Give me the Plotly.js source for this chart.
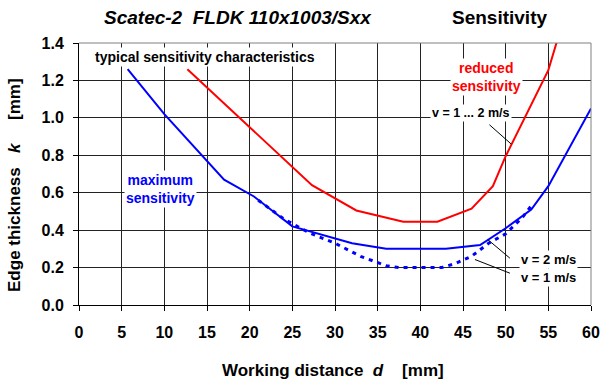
<!DOCTYPE html>
<html><head><meta charset="utf-8">
<script src="https://cdn.plot.ly/plotly-3.0.1.min.js"></script>
<style>body{margin:0;padding:0;background:#fff}#chart{width:603px;height:382px}</style>
</head><body><div id="chart"></div>
<script>
// v = 2 m/s (maximum sensitivity, solid)
const blue2X = [5.7, 10, 17, 20.5, 25, 32, 36, 43, 47, 50, 53, 55, 60];
const blue2Y = [1.26, 1.02, 0.67, 0.58, 0.42, 0.33, 0.30, 0.30, 0.32, 0.41, 0.51, 0.635, 1.05];
// v = 1 m/s (maximum sensitivity, dotted)
const blue1X = [21, 24, 27, 30, 33, 36, 37.5, 42.5, 44, 46, 48, 50, 52, 53];
const blue1Y = [0.56, 0.46, 0.385, 0.33, 0.26, 0.21, 0.20, 0.20, 0.22, 0.26, 0.33, 0.38, 0.47, 0.53];
// v = 1 ... 2 m/s (reduced sensitivity)
const redX = [12.7, 27.3, 32.5, 38, 42, 46, 48.5, 50, 55, 57];
const redY = [1.26, 0.64, 0.505, 0.445, 0.445, 0.515, 0.635, 0.795, 1.255, 1.56];

const xTicks = [0, 5, 10, 15, 20, 25, 30, 35, 40, 45, 50, 55, 60];
const yTicks = [0, 0.2, 0.4, 0.6, 0.8, 1.0, 1.2, 1.4];
const yTickText = ['0.0', '0.2', '0.4', '0.6', '0.8', '1.0', '1.2', '1.4'];

const FONT = 'Arial, "Liberation Sans", sans-serif';
const traces = [
  {x: blue1X, y: blue1Y, mode: 'lines', line: {color: '#0000FF', width: 3, dash: '4px,5px'}, hoverinfo: 'none'},
  {x: blue2X, y: blue2Y, mode: 'lines', line: {color: '#0000FF', width: 2}, hoverinfo: 'none'},
  {x: redX, y: redY, mode: 'lines', line: {color: '#FF0000', width: 2}, hoverinfo: 'none'}
];

const ann = (x, y, text, size, color, extra) => Object.assign({x, y, xref: 'x', yref: 'y', text, showarrow: false,
  xanchor: 'center', yanchor: 'middle',
  font: {family: FONT, size, color}, bgcolor: '#ffffff', borderpad: 1}, extra || {});
const pann = (x, y, text, size, extra) => Object.assign({x, y, xref: 'paper', yref: 'paper', text, showarrow: false,
  xanchor: 'center', yanchor: 'middle', font: {family: FONT, size, color: '#000'}}, extra || {});

const layout = {
  width: 603, height: 382,
  margin: {l: 79, r: 12, t: 43, b: 76.5},
  paper_bgcolor: '#ffffff', plot_bgcolor: '#ffffff',
  showlegend: false,
  font: {family: FONT, color: '#000'},
  xaxis: {range: [0, 60], tickvals: xTicks, ticktext: xTicks.map(String), showgrid: true, gridcolor: '#222', gridwidth: 1,
    zeroline: false, showline: true, linecolor: '#000', linewidth: 1, ticks: 'outside', ticklen: 5, tickcolor: '#000',
    tickfont: {family: FONT, size: 16, color: '#000', weight: 'bold'}, ticklabelstandoff: 8, fixedrange: true},
  yaxis: {range: [0, 1.4], tickvals: yTicks, ticktext: yTickText, showgrid: true, gridcolor: '#222', gridwidth: 1,
    zeroline: false, showline: true, linecolor: '#000', linewidth: 1, ticks: 'outside', ticklen: 5, tickcolor: '#000',
    tickfont: {family: FONT, size: 16, color: '#000', weight: 'bold'}, ticklabelstandoff: 6, fixedrange: true},
  shapes: [
    {type: 'line', xref: 'paper', yref: 'paper', x0: 0, x1: 1, y0: 1, y1: 1, line: {color: '#808080', width: 1}},
    {type: 'line', xref: 'paper', yref: 'paper', x0: 1, x1: 1, y0: 0, y1: 1, line: {color: '#808080', width: 1}},
    {type: 'line', xref: 'x', yref: 'y', x0: 48.1, y0: 0.963, x1: 50.65, y1: 0.86, line: {color: '#000', width: 1}},
    {type: 'line', xref: 'x', yref: 'y', x0: 47.9, y0: 0.35, x1: 50.5, y1: 0.25, line: {color: '#000', width: 1}},
    {type: 'line', xref: 'x', yref: 'y', x0: 46.4, y0: 0.243, x1: 50.5, y1: 0.17, line: {color: '#000', width: 1}}
  ],
  annotations: [
    pann(0.3105, 1.099, '<b><i>Scatec-2\u00a0 FLDK 110x1003/Sxx</i></b>', 19),
    pann(0.822, 1.099, '<b>Sensitivity</b>', 19),
    pann(-0.126, 0.46, '<b>Edge thickness\u00a0\u00a0 <i>k</i>\u00a0\u00a0\u00a0\u00a0 [mm]</b>', 17, {textangle: -90}),
    pann(0.496, -0.25, '<b>Working distance\u00a0 <i>d</i>\u00a0\u00a0\u00a0 [mm]</b>', 17),
    ann(14.8, 1.323, '<b>typical sensitivity characteristics</b>', 14, '#000'),
    ann(47.8, 1.217, '<b>reduced<br>sensitivity</b>', 14, '#FF0000'),
    ann(45.9, 1.025, '<b>v = 1 ... 2 m/s</b>', 12.5, '#000'),
    ann(9.6, 0.62, '<b>maximum<br>sensitivity</b>', 14, '#0000FF'),
    ann(55, 0.245, '<b>v = 2 m/s</b>', 13, '#000'),
    ann(55, 0.147, '<b>v = 1 m/s</b>', 13, '#000')
  ]
};
Plotly.newPlot('chart', traces, layout, {displayModeBar: false, staticPlot: true});
</script></body></html>
